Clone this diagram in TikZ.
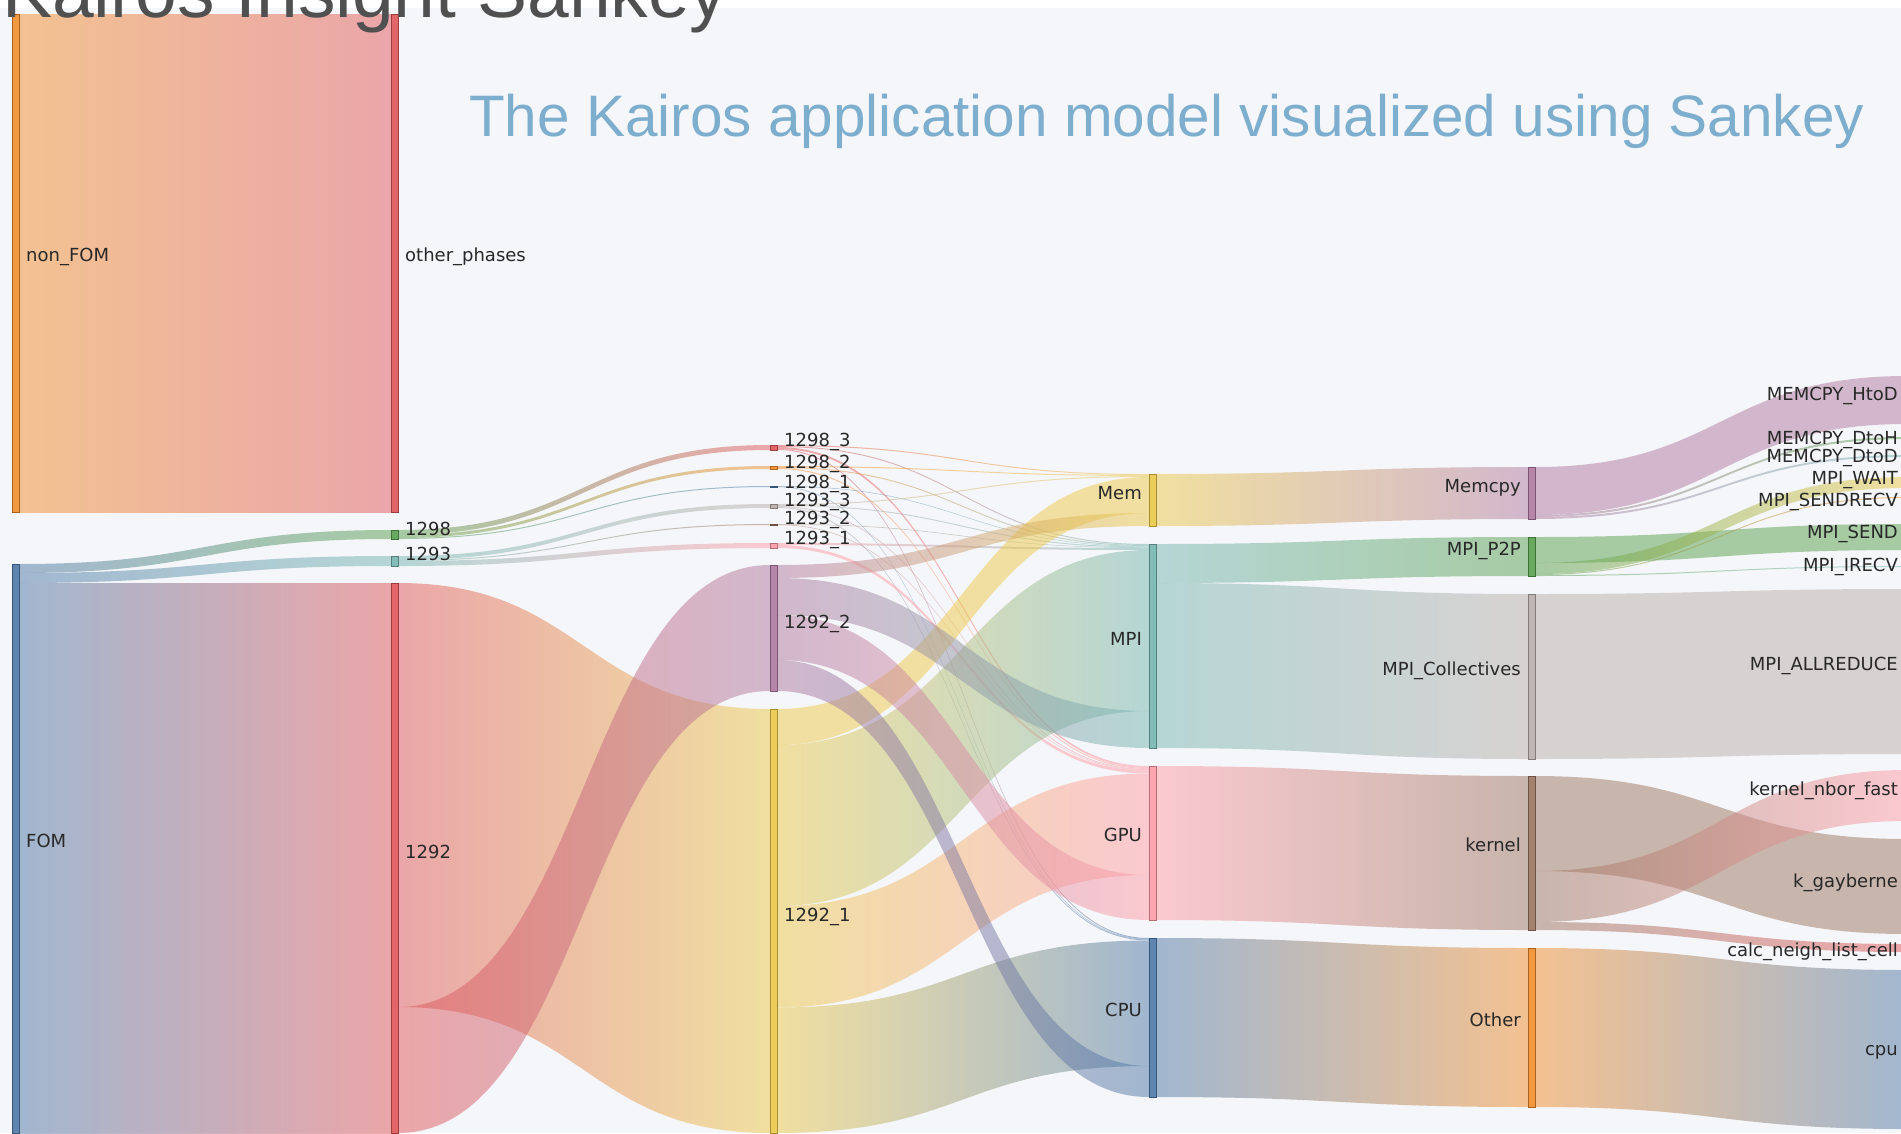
\documentclass[tikz,border=0pt]{standalone}
\usepackage{fontspec}
\setmainfont{DejaVu Sans}
\newfontfamily\titlefont{Liberation Sans}
\usepackage{tikz}
\usetikzlibrary{arrows,shapes,positioning}
\usepackage{xcolor}
\definecolor{skblue}{RGB}{78,121,167}
\definecolor{skorange}{RGB}{242,142,43}
\definecolor{skred}{RGB}{225,87,89}
\definecolor{skteal}{RGB}{118,183,178}
\definecolor{skgreen}{RGB}{89,161,79}
\definecolor{skyellow}{RGB}{237,201,72}
\definecolor{skpurple}{RGB}{176,122,161}
\definecolor{skpink}{RGB}{255,157,167}
\definecolor{skbrown}{RGB}{156,117,95}
\definecolor{skgray}{RGB}{186,176,172}
\definecolor{skbg}{RGB}{245,246,249}
\definecolor{sktext}{RGB}{40,40,40}
\definecolor{sktitle}{RGB}{125,174,205}
\definecolor{skhead}{RGB}{80,80,80}
\tikzstyle{bar} = [rectangle, minimum width=7pt, inner sep=0pt, outer sep=0pt, anchor=north west, line width=0.8pt, fill opacity=0.9]
\tikzstyle{lbl} = [font=\fontsize{18}{21}\selectfont, text=sktext, inner sep=0pt, text height=13pt, text depth=0pt]

% band between column #1 and #1+1: source top/bottom, target top/bottom, colours
\newcommand{\flowband}[7]{%
  \pgfmathsetmacro{\fbxa}{19+379*#1}%
  \pgfmathsetmacro{\fbxb}{391+379*#1}%
  \pgfmathsetmacro{\fbxm}{(\fbxa+\fbxb)/2}%
  \shade[left color=#6, right color=#7, fill opacity=0.5]
    (\fbxa,#2) .. controls (\fbxm,#2) and (\fbxm,#4) .. (\fbxb,#4)
    -- (\fbxb,#5) .. controls (\fbxm,#5) and (\fbxm,#3) .. (\fbxa,#3) -- cycle;}

\begin{document}
\begin{tikzpicture}[x=1pt,y=-1pt]
\useasboundingbox (0,0) rectangle (1901,1133);
\clip (0,0) rectangle (1901,1133);
\fill[skbg] (0,0) rectangle (1901,1133);
\fill[white] (0,0) rectangle (1901,8);

% Phases
\flowband{0}{14}{512}{14}{512}{skorange}{skred}
\flowband{0}{564}{573}{530}{539}{skblue}{skgreen}
\flowband{0}{573}{583}{556}{566}{skblue}{skteal}
\flowband{0}{583}{1133}{583}{1133}{skblue}{skred}

% Regions
\flowband{1}{530}{535}{445}{450}{skgreen}{skred}
\flowband{1}{535}{538}{466}{469}{skgreen}{skorange}
\flowband{1}{538}{539}{486}{487}{skgreen}{skblue}
\flowband{1}{556}{560}{504}{508}{skteal}{skgray}
\flowband{1}{560}{561}{524}{525}{skteal}{skbrown}
\flowband{1}{561}{566}{543}{548}{skteal}{skpink}
\flowband{1}{583}{1007}{709}{1133}{skred}{skyellow}
\flowband{1}{1007}{1133}{565}{691}{skred}{skpurple}

% Categories, small regions
\flowband{2}{445}{446}{474}{475}{skred}{skyellow}
\flowband{2}{446}{447}{544}{545}{skred}{skteal}
\flowband{2}{447}{449}{766}{768}{skred}{skpink}
\flowband{2}{449}{450}{938}{939}{skred}{skblue}
\flowband{2}{466}{467}{475}{476}{skorange}{skyellow}
\flowband{2}{467}{468}{545}{546}{skorange}{skteal}
\flowband{2}{468}{469}{768}{769}{skorange}{skpink}
\flowband{2}{486}{486.5}{546}{546.5}{skblue}{skteal}
\flowband{2}{486.5}{487}{939}{939.5}{skblue}{skblue}
\flowband{2}{504}{505}{476}{477}{skgray}{skyellow}
\flowband{2}{505}{506}{546.5}{547.5}{skgray}{skteal}
\flowband{2}{506}{507}{769}{770}{skgray}{skpink}
\flowband{2}{507}{508}{939.5}{940.5}{skgray}{skblue}
\flowband{2}{524}{524.5}{547.5}{548}{skbrown}{skteal}
\flowband{2}{524.5}{525}{770}{770.5}{skbrown}{skpink}
\flowband{2}{543}{545}{548}{550}{skpink}{skteal}
\flowband{2}{545}{548}{770.5}{773.5}{skpink}{skpink}

% Categories, 1292
\flowband{2}{709}{745}{477}{513}{skyellow}{skyellow}
\flowband{2}{565}{578}{513}{526}{skpurple}{skyellow}
\flowband{2}{745}{906}{550}{711}{skyellow}{skteal}
\flowband{2}{578}{615}{711}{748}{skpurple}{skteal}
\flowband{2}{906}{1007.5}{773.5}{875}{skyellow}{skpink}
\flowband{2}{615}{660}{875}{920}{skpurple}{skpink}
\flowband{2}{1007.5}{1133}{940.5}{1066}{skyellow}{skblue}
\flowband{2}{660}{691}{1066}{1097}{skpurple}{skblue}

% Groups
\flowband{3}{474}{526}{467}{519}{skyellow}{skpurple}
\flowband{3}{544}{583}{537}{576}{skteal}{skgreen}
\flowband{3}{583}{748}{594}{759}{skteal}{skgray}
\flowband{3}{766}{920}{776}{930}{skpink}{skbrown}
\flowband{3}{938}{1097}{948}{1107}{skblue}{skorange}

% Calls
\flowband{4}{467}{515}{376}{424}{skpurple}{skpurple}
\flowband{4}{515}{517}{437}{439}{skpurple}{skgreen}
\flowband{4}{517}{519}{455}{457}{skpurple}{skteal}
\flowband{4}{537}{563}{524}{550}{skgreen}{skgreen}
\flowband{4}{563}{574}{477}{488}{skgreen}{skyellow}
\flowband{4}{574}{575}{497}{498}{skgreen}{skorange}
\flowband{4}{575}{576}{566}{567}{skgreen}{skteal}
\flowband{4}{594}{759}{589}{754}{skgray}{skgray}
\flowband{4}{776}{871}{839}{934}{skbrown}{skbrown}
\flowband{4}{871}{922}{770}{821}{skbrown}{skpink}
\flowband{4}{922}{930}{944}{952}{skbrown}{skred}
\flowband{4}{948}{1107}{970}{1129}{skorange}{skblue}

% Bars
\node (non_fom) [bar, minimum height=498pt, fill=skorange, draw=skorange!70!black] at (12,14) {};
\node (fom) [bar, minimum height=569pt, fill=skblue, draw=skblue!70!black] at (12,564) {};
\node (other_phases) [bar, minimum height=498pt, fill=skred, draw=skred!70!black] at (391,14) {};
\node (r1298) [bar, minimum height=9pt, fill=skgreen, draw=skgreen!70!black] at (391,530) {};
\node (r1293) [bar, minimum height=10pt, fill=skteal, draw=skteal!70!black] at (391,556) {};
\node (r1292) [bar, minimum height=550pt, fill=skred, draw=skred!70!black] at (391,583) {};
\node (r1298_3) [bar, minimum height=5pt, fill=skred, draw=skred!70!black] at (770,445) {};
\node (r1298_2) [bar, minimum height=3pt, fill=skorange, draw=skorange!70!black] at (770,466) {};
\node (r1298_1) [bar, minimum height=1pt, fill=skblue, draw=skblue!70!black] at (770,486) {};
\node (r1293_3) [bar, minimum height=4pt, fill=skgray, draw=skgray!70!black] at (770,504) {};
\node (r1293_2) [bar, minimum height=1pt, fill=skbrown, draw=skbrown!70!black] at (770,524) {};
\node (r1293_1) [bar, minimum height=5pt, fill=skpink, draw=skpink!70!black] at (770,543) {};
\node (r1292_2) [bar, minimum height=126pt, fill=skpurple, draw=skpurple!70!black] at (770,565) {};
\node (r1292_1) [bar, minimum height=424pt, fill=skyellow, draw=skyellow!70!black] at (770,709) {};
\node (mem) [bar, minimum height=52pt, fill=skyellow, draw=skyellow!70!black] at (1149,474) {};
\node (mpi) [bar, minimum height=204pt, fill=skteal, draw=skteal!70!black] at (1149,544) {};
\node (gpu) [bar, minimum height=154pt, fill=skpink, draw=skpink!70!black] at (1149,766) {};
\node (cpu) [bar, minimum height=159pt, fill=skblue, draw=skblue!70!black] at (1149,938) {};
\node (memcpy) [bar, minimum height=52pt, fill=skpurple, draw=skpurple!70!black] at (1528,467) {};
\node (mpi_p2p) [bar, minimum height=39pt, fill=skgreen, draw=skgreen!70!black] at (1528,537) {};
\node (mpi_coll) [bar, minimum height=165pt, fill=skgray, draw=skgray!70!black] at (1528,594) {};
\node (kernel) [bar, minimum height=154pt, fill=skbrown, draw=skbrown!70!black] at (1528,776) {};
\node (other) [bar, minimum height=159pt, fill=skorange, draw=skorange!70!black] at (1528,948) {};

% Labels
\node (non_fom_lbl) [lbl, anchor=west] at (26,255) {non\_FOM};
\node (fom_lbl) [lbl, anchor=west] at (26,841) {FOM};
\node (other_phases_lbl) [lbl, anchor=west] at (405,255) {other\_phases};
\node (r1298_lbl) [lbl, anchor=west] at (405,529) {1298};
\node (r1293_lbl) [lbl, anchor=west] at (405,554) {1293};
\node (r1292_lbl) [lbl, anchor=west] at (405,852) {1292};
\node (r1298_3_lbl) [lbl, anchor=west] at (784,440) {1298\_3};
\node (r1298_2_lbl) [lbl, anchor=west] at (784,462) {1298\_2};
\node (r1298_1_lbl) [lbl, anchor=west] at (784,482) {1298\_1};
\node (r1293_3_lbl) [lbl, anchor=west] at (784,500) {1293\_3};
\node (r1293_2_lbl) [lbl, anchor=west] at (784,518) {1293\_2};
\node (r1293_1_lbl) [lbl, anchor=west] at (784,538) {1293\_1};
\node (r1292_2_lbl) [lbl, anchor=west] at (784,622) {1292\_2};
\node (r1292_1_lbl) [lbl, anchor=west] at (784,915) {1292\_1};
\node (mem_lbl) [lbl, anchor=east] at (1142,493) {Mem};
\node (mpi_lbl) [lbl, anchor=east] at (1142,639) {MPI};
\node (gpu_lbl) [lbl, anchor=east] at (1142,835) {GPU};
\node (cpu_lbl) [lbl, anchor=east] at (1142,1010) {CPU};
\node (memcpy_lbl) [lbl, anchor=east] at (1521,486) {Memcpy};
\node (mpi_p2p_lbl) [lbl, anchor=east] at (1521,549) {MPI\_P2P};
\node (mpi_coll_lbl) [lbl, anchor=east] at (1521,669) {MPI\_Collectives};
\node (kernel_lbl) [lbl, anchor=east] at (1521,845) {kernel};
\node (other_lbl) [lbl, anchor=east] at (1521,1020) {Other};
\node (htod_lbl) [lbl, anchor=east] at (1898,394) {MEMCPY\_HtoD};
\node (dtoh_lbl) [lbl, anchor=east] at (1898,438) {MEMCPY\_DtoH};
\node (dtod_lbl) [lbl, anchor=east] at (1898,456) {MEMCPY\_DtoD};
\node (wait_lbl) [lbl, anchor=east] at (1898,478) {MPI\_WAIT};
\node (sendrecv_lbl) [lbl, anchor=east] at (1898,500) {MPI\_SENDRECV};
\node (send_lbl) [lbl, anchor=east] at (1898,532) {MPI\_SEND};
\node (irecv_lbl) [lbl, anchor=east] at (1898,565) {MPI\_IRECV};
\node (allreduce_lbl) [lbl, anchor=east] at (1898,664) {MPI\_ALLREDUCE};
\node (nbor_lbl) [lbl, anchor=east] at (1898,789) {kernel\_nbor\_fast};
\node (gayberne_lbl) [lbl, anchor=east] at (1898,881) {k\_gayberne};
\node (calc_lbl) [lbl, anchor=east] at (1898,950) {calc\_neigh\_list\_cell};
\node (cpu_call_lbl) [lbl, anchor=east] at (1898,1049) {cpu};

% Titles
\node (title) [anchor=base west, inner sep=0pt, text=sktitle, font=\titlefont\fontsize{58.5}{64}\selectfont] at (469,136) {The Kairos application model visualized using Sankey};
\node (header) [anchor=base west, inner sep=0pt, text=skhead, font=\titlefont\fontsize{75}{82}\selectfont] at (2,17) {Kairos Insight Sankey};
\end{tikzpicture}
\end{document}
